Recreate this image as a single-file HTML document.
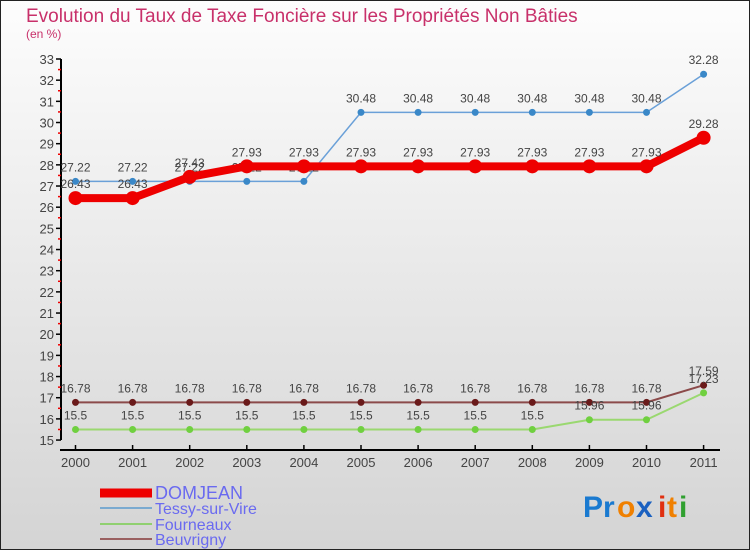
<!DOCTYPE html>
<html><head><meta charset="utf-8"><style>
body{margin:0;width:750px;height:550px;overflow:hidden;font-family:"Liberation Sans",sans-serif}
</style></head><body>
<svg id="c" width="750" height="550" xmlns="http://www.w3.org/2000/svg">
<defs><linearGradient id="bg" x1="0" y1="0" x2="0" y2="1"><stop offset="0" stop-color="#fdfdfd"/><stop offset="1" stop-color="#d4d4d4"/></linearGradient></defs>
<rect x="0.5" y="0.5" width="749" height="549" fill="url(#bg)" stroke="#222"/>
<text x="26" y="22" font-size="19" fill="#c8306a">Evolution du Taux de Taxe Foncière sur les Propriétés Non Bâties</text>
<text x="26" y="38" font-size="12" fill="#c8306a">(en %)</text>
<g id="axes"></g><g id="series"></g><g id="legend"></g>
<g font-size="30" font-weight="bold" font-family="'Liberation Sans',sans-serif">
<text x="583" y="517" fill="#1a7ad0">P</text><text x="603" y="517" fill="#1a7ad0">r</text><text x="617" y="517" fill="#f08000">o</text><text x="636" y="517" fill="#1a60c0">x</text><text x="658" y="517" fill="#e03010">i</text><text x="667" y="517" fill="#f08000">t</text><text x="679" y="517" fill="#30a030">i</text>
</g>
</svg>
<script>
const years=[2000,2001,2002,2003,2004,2005,2006,2007,2008,2009,2010,2011];
const domjean=[26.43,26.43,27.43,27.93,27.93,27.93,27.93,27.93,27.93,27.93,27.93,29.28];
const tessy=[27.22,27.22,27.22,27.22,27.22,30.48,30.48,30.48,30.48,30.48,30.48,32.28];
const fourneaux=[15.5,15.5,15.5,15.5,15.5,15.5,15.5,15.5,15.5,15.96,15.96,17.23];
const beuvrigny=[16.78,16.78,16.78,16.78,16.78,16.78,16.78,16.78,16.78,16.78,16.78,17.59];
const yTicks=[15,16,17,18,19,20,21,22,23,24,25,26,27,28,29,30,31,32,33];
const NS="http://www.w3.org/2000/svg";
const X=i=>75.5+i*57.1;
const Y=v=>59+(33-v)*21.17;
function mk(tag,attrs,parent){const e=document.createElementNS(NS,tag);for(const k in attrs)e.setAttribute(k,attrs[k]);parent.appendChild(e);return e;}
const axes=document.getElementById('axes');
const ya=mk('line',{x1:61,y1:Y(33),x2:61,y2:Y(15),stroke:'#000','stroke-width':2},axes);


yTicks.forEach(v=>{
  mk('line',{x1:56,y1:Y(v),x2:61,y2:Y(v),stroke:'#000','stroke-width':1.5},axes);
  if(v<33){mk('line',{x1:58,y1:Y(v+0.5),x2:61,y2:Y(v+0.5),stroke:'#e00','stroke-width':1.5},axes);}
  const t=mk('text',{x:54,y:Y(v)+5,'text-anchor':'end','font-size':13,fill:'#444'},axes);
  t.textContent=v;
  
  
});
const xa=mk('line',{x1:60,y1:450,x2:720,y2:450,stroke:'#000','stroke-width':2},axes);


years.forEach((y,i)=>{
  mk('line',{x1:X(i),y1:445,x2:X(i),y2:450,stroke:'#000','stroke-width':1.5},axes);
  const t=mk('text',{x:X(i),y:467,'text-anchor':'middle','font-size':13,fill:'#444'},axes);
  t.textContent=y;
  
  
});
const series=[
 {name:'beuvrigny',data:beuvrigny,color:'#8b4a4a',pt:'#6a1a1a',w:2,r:3.5},
 {name:'fourneaux',data:fourneaux,color:'#9ad870',pt:'#70d040',w:2,r:3.5},
 {name:'tessy-sur-vire',data:tessy,color:'#6aa0d8',pt:'#3a88c8',w:1.5,r:3.5},
 {name:'domjean',data:domjean,color:'#ee0000',pt:'#ee0000',w:8,r:7}
];
const sg=document.getElementById('series');
series.forEach(s=>{
  const g=mk('g',{},sg);
  
  
  const p=mk('polyline',{points:s.data.map((v,i)=>X(i)+','+Y(v)).join(' '),fill:'none',stroke:s.color,'stroke-width':s.w},g);
  
  
  s.data.forEach((v,i)=>{
    const c=mk('circle',{cx:X(i),cy:Y(v),r:s.r,fill:s.pt},g);
    
    
    const t=mk('text',{x:X(i),y:Y(v)-10,'text-anchor':'middle','font-size':12,fill:'#444'},g);
    t.textContent=v;
    
    
  });
});
const lg=document.getElementById('legend');
const leg=[['DOMJEAN','#ee0000',9,493,18],['Tessy-sur-Vire','#7aaad0',2,508,16],['Fourneaux','#90d070',2,524,16],['Beuvrigny','#9a6060',2,539,16]];
leg.forEach(l=>{
  const g=mk('g',{},lg);
  
  
  mk('line',{x1:100,y1:l[3],x2:152,y2:l[3],stroke:l[1],'stroke-width':l[2]},g);
  const t=mk('text',{x:155,y:l[3]+6,'font-size':l[4],fill:'#6a6af0'},g);
  t.textContent=l[0];
});
</script>
</body></html>
